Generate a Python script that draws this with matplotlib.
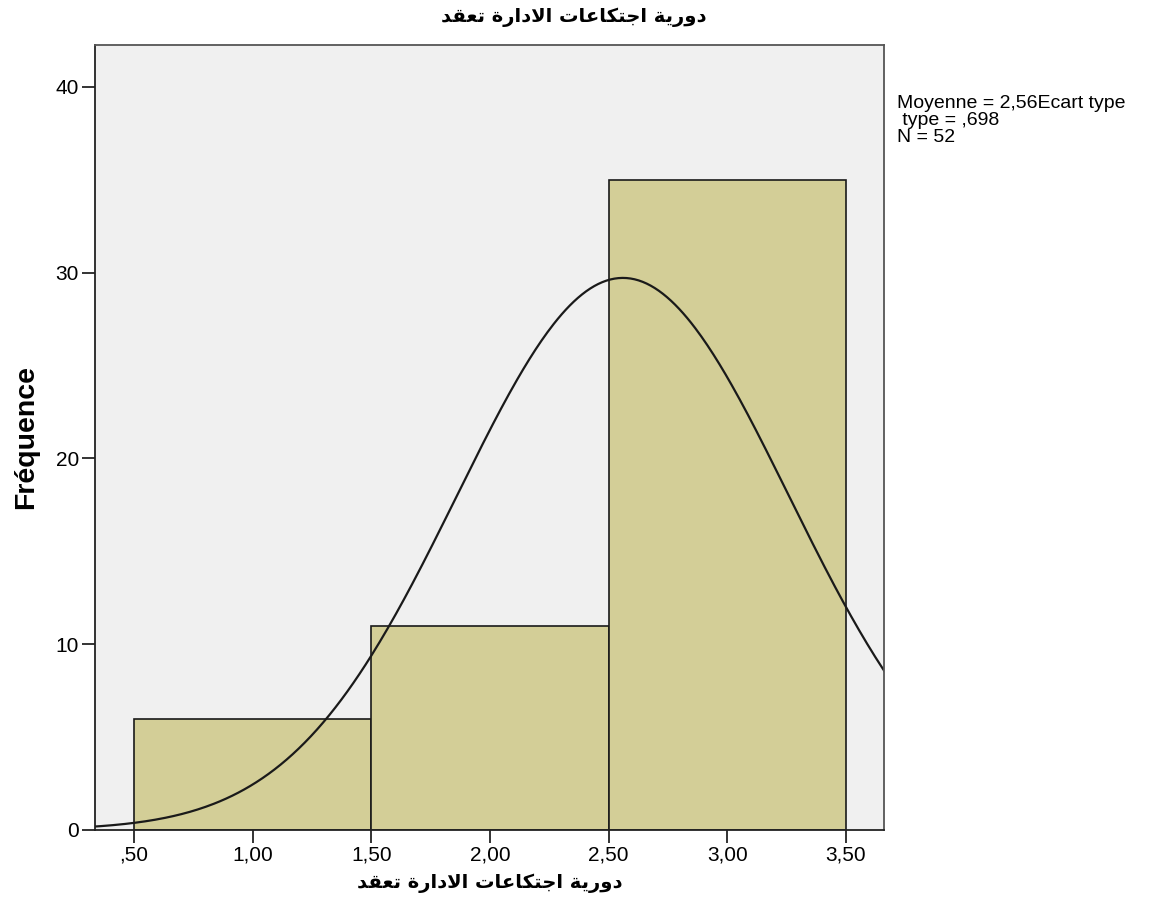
import numpy as np
import matplotlib
matplotlib.use("Agg")
import matplotlib.pyplot as plt

# donnees
bornes = [0.5, 1.5, 2.5, 3.5]
frequences = [6, 11, 35]
moyenne = 2.56
ecart_type = 0.698
n_total = 52
x_ticks = [0.5, 1.0, 1.5, 2.0, 2.5, 3.0, 3.5]
x_tick_labels = [",50", "1,00", "1,50", "2,00", "2,50", "3,00", "3,50"]
y_ticks = [0, 10, 20, 30, 40]
titre = "دورية اجتكاعات الادارة تعقد"
stats_txt = "Moyenne = 2,56Ecart type\n type = ,698\nN = 52"

# formes contextuelles arabes (matplotlib ne fait pas le shaping)
FORMES = {
    "ا": (0xFE8D, 0xFE8E, None, None),
    "د": (0xFEA9, 0xFEAA, None, None),
    "ر": (0xFEAD, 0xFEAE, None, None),
    "و": (0xFEED, 0xFEEE, None, None),
    "ة": (0xFE93, 0xFE94, None, None),
    "ي": (0xFEF1, 0xFEF2, 0xFEF3, 0xFEF4),
    "ج": (0xFE9D, 0xFE9E, 0xFE9F, 0xFEA0),
    "ت": (0xFE95, 0xFE96, 0xFE97, 0xFE98),
    "ك": (0xFED9, 0xFEDA, 0xFEDB, 0xFEDC),
    "ع": (0xFEC9, 0xFECA, 0xFECB, 0xFECC),
    "ق": (0xFED5, 0xFED6, 0xFED7, 0xFED8),
    "ل": (0xFEDD, 0xFEDE, 0xFEDF, 0xFEE0),
    "لا": (0xFEFB, 0xFEFC, None, None),
}


def mise_en_forme(mot):
    lettres = []
    i = 0
    while i < len(mot):
        if mot[i:i + 2] == "لا":
            lettres.append("لا")
            i += 2
        else:
            lettres.append(mot[i])
            i += 1
    sortie = ""
    for k, c in enumerate(lettres):
        f = FORMES[c]
        avant = k > 0 and FORMES[lettres[k - 1]][2] is not None
        apres = k < len(lettres) - 1 and f[2] is not None
        if avant and apres:
            code = f[3]
        elif avant:
            code = f[1]
        elif apres:
            code = f[2]
        else:
            code = f[0]
        sortie += chr(code)
    return sortie


def arabe(texte):
    logique = " ".join(mise_en_forme(m) for m in texte.split(" "))
    return logique[::-1]


fig = plt.figure(figsize=(11.51, 9.22), dpi=100)
ax = fig.add_axes([0.0825, 0.0998, 0.6855, 0.8514])
ax.set_facecolor("#f0f0f0")

largeurs = np.diff(bornes)
ax.bar(bornes[:-1], frequences, width=largeurs, align="edge",
       color="#d3ce97", edgecolor="#1a1a1a", linewidth=1.2)

xs = np.linspace(0.3, 3.7, 400)
ys = n_total * 1.0 / (ecart_type * np.sqrt(2 * np.pi)) * np.exp(-0.5 * ((xs - moyenne) / ecart_type) ** 2)
ax.plot(xs, ys, color="#1a1a1a", linewidth=1.6)

ax.set_xlim(0.336, 3.66)
ax.set_ylim(0, 42.26)
ax.set_xticks(x_ticks)
ax.set_xticklabels(x_tick_labels)
ax.set_yticks(y_ticks)
for nom, s in ax.spines.items():
    s.set_color("#222222" if nom in ("left", "bottom") else "#555555")
    s.set_linewidth(1.3)
ax.tick_params(axis="both", direction="out", length=9.5, width=1.4, color="#333333",
               labelsize=15, pad=2)
for lab in ax.get_xticklabels() + ax.get_yticklabels():
    lab.set_fontfamily("Liberation Sans")

ax.set_ylabel("Fréquence", fontsize=20.5, fontweight="bold", family="Liberation Sans", labelpad=12)
ax.set_xlabel(arabe(titre), fontsize=14, fontweight="bold", family="DejaVu Sans", labelpad=6)
fig.text(0.4985, 0.992, arabe(titre), ha="center", va="top", fontsize=14,
         fontweight="bold", family="DejaVu Sans")

fig.text(0.779, 0.897, stats_txt, ha="left", va="top", fontsize=14,
         family="Liberation Sans", linespacing=1.0)

fig.savefig("out.png", dpi=100)
